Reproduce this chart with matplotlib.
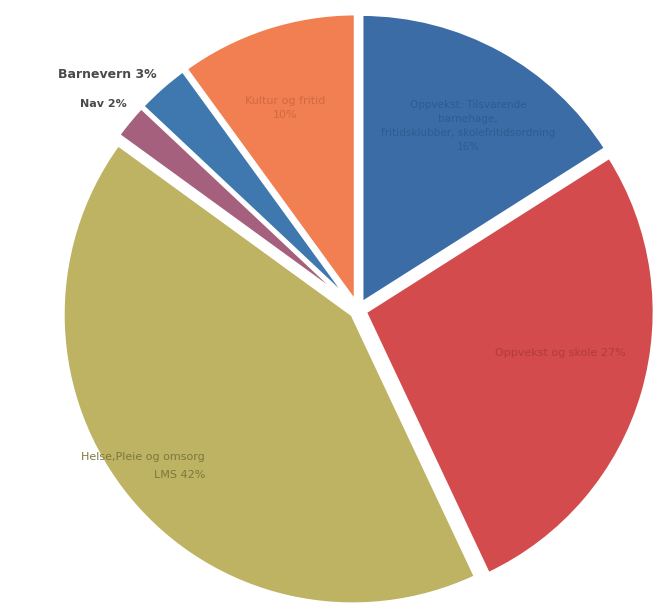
import matplotlib.pyplot as plt

# Andel per tjenesteområde (%)
omraader = ["Oppvekst: Tilsvarende\nbarnehage,\nfritidsklubber, skolefritidsordning\n16%",
            "Oppvekst og skole 27%",
            "Helse,Pleie og omsorg\nLMS 42%",
            "Nav 2%",
            "Barnevern 3%",
            "Kultur og fritid\n10%"]
andel = [16, 27, 42, 2, 3, 10]
farger = ["#3b6ca6", "#d34b4c", "#bdb362", "#a4607c", "#3e78ae", "#f17f52"]
tekstfarger = ["#2f5c8f", "#b23c3e", "#7d783e", "#4a4a4a", "#4a4a4a", "#d06a42"]

fig = plt.figure(figsize=(6.54, 6.08), dpi=100)
ax = fig.add_axes([0, 0, 1, 1])

# explode er i samme enhet som radius her (piksler)
wedges, _ = ax.pie(andel, colors=farger, startangle=90, counterclock=False,
                   center=(358, -310), radius=290,
                   explode=[7] * 6,
                   wedgeprops=dict(edgecolor="white", linewidth=3))

ax.set_xlim(0, 654)
ax.set_ylim(-608, 0)
ax.set_aspect("equal")
ax.axis("off")

# etiketter
ax.text(468, -126, omraader[0], ha="center", va="center", fontsize=7.5,
        color=tekstfarger[0], linespacing=1.5)
ax.text(560, -353, omraader[1], ha="center", va="center", fontsize=8,
        color=tekstfarger[1])
ax.text(205, -466, omraader[2], ha="right", va="center", fontsize=8,
        color=tekstfarger[2], linespacing=1.9, multialignment="right")
ax.text(80, -104, omraader[3], ha="left", va="center", fontsize=8,
        color=tekstfarger[3], fontweight="bold")
ax.text(58, -74, omraader[4], ha="left", va="center", fontsize=9,
        color=tekstfarger[4], fontweight="bold")
ax.text(285, -108, omraader[5], ha="center", va="center", fontsize=8,
        color=tekstfarger[5], linespacing=1.6)

fig.savefig("out.png", dpi=100)
